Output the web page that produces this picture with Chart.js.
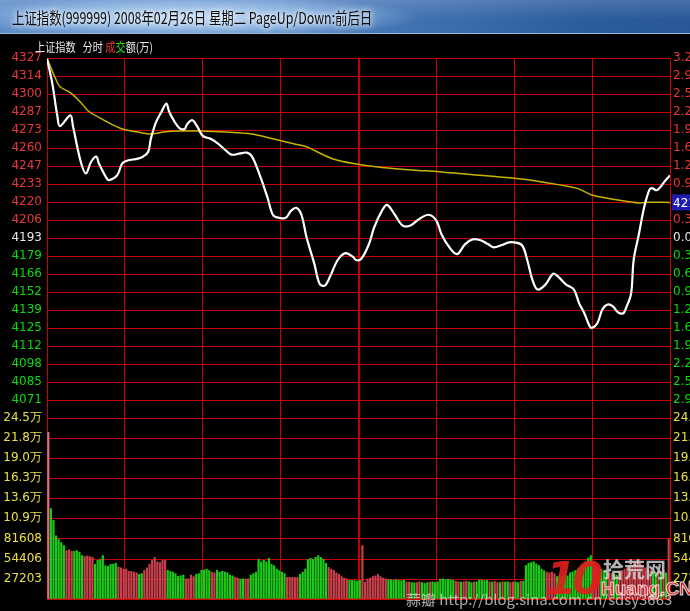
<!DOCTYPE html>
<html>
<head>
<meta charset="utf-8">
<script src="https://cdn.jsdelivr.net/npm/chart.js@4"></script>
<style>
body { margin:0; background:#000; width:690px; height:611px; overflow:hidden; position:relative; }
#titlebar { position:absolute; left:0; top:0; width:690px; height:33px;
  background: radial-gradient(ellipse 230px 22px at 190px 17px, rgba(200,225,250,0.85) 0%, rgba(170,205,240,0.6) 60%, rgba(120,160,210,0) 100%),
              linear-gradient(180deg, rgba(255,255,255,0.15) 0%, rgba(255,255,255,0) 60%),
              linear-gradient(90deg, #5d8cc8 0%, #5585c2 40%, #3f6fb0 62%, #2c5c9c 85%, #29579a 100%);
  border-bottom:1px solid #9fb8d8; z-index:2; }
#title { position:absolute; left:12px; top:5px; font:16px "Noto Sans CJK SC"; color:#0c0c0c; white-space:nowrap;
  transform-origin:0 0; text-shadow:0 0 6px #fff, 0 0 10px #e8f2ff; }
#head { position:absolute; left:35px; top:38px; font:12px "Noto Sans CJK SC"; color:#e8e8e8; white-space:nowrap; transform-origin:0 0; z-index:2; }
#mark { position:absolute; left:406px; top:589px; font:14px "Noto Sans CJK SC"; color:rgba(225,225,225,0.75); white-space:nowrap; transform-origin:0 0; z-index:2; }
#logo10 { position:absolute; left:546px; top:553px; font:italic bold 44px "DejaVu Sans"; color:rgba(225,30,30,0.9); letter-spacing:-4px; z-index:2; }
#logocn { position:absolute; left:603px; top:553px; font:bold 21px "Noto Sans CJK SC"; color:rgba(210,210,210,0.85); z-index:2; }
#logoen { position:absolute; left:601px; top:578px; font:bold 19px "Liberation Sans"; color:rgba(230,40,40,0.9); -webkit-text-stroke:1px rgba(255,255,255,0.8); z-index:2; }
canvas { position:absolute; left:0; top:0; }
</style>
</head>
<body>
<div id="titlebar"><span id="title">上证指数(999999) 2008年02月26日 星期二 PageUp/Down:前后日</span></div>
<div id="head">上证指数&nbsp;&nbsp;&nbsp;分时 <span style="color:#ff3030">成</span><span style="color:#20e020">交</span>额(万)</div>
<canvas id="chart" width="690" height="611"></canvas>
<div id="mark">蒜瓣 http://blog.sina.com.cn/sdsy3663</div>
<div id="logo10">10</div>
<div id="logocn">拾荒网</div>
<div id="logoen">Huang.CN</div>
<script>
// minute index (0 = 9:30, 120 = 11:30/13:00, 240 = 15:00)
var price_minutes = [0, 2, 4, 5, 9, 10, 13, 15, 17, 19, 20, 23, 24, 27, 29, 31, 35, 37, 39, 40, 42, 44, 46, 47, 49, 51, 53, 54, 56, 58,
  60, 63, 66, 69, 71, 74, 77, 79, 82, 85, 87, 89, 92, 94, 96, 98, 100, 103, 105, 107, 109, 112, 115, 118, 119, 121, 124, 126, 129, 131,
  134, 137, 140, 143, 147, 150, 152, 155, 158, 161, 164, 167, 170, 172, 175, 178, 180, 183, 185, 187, 189, 192, 195, 197, 200, 203, 205, 207, 209, 210,
  212, 214, 216, 218, 220, 222, 223, 225, 226, 228, 230, 232, 233, 235, 238, 240];
var price_values = [4327, 4309, 4284, 4276.6, 4284.7, 4276.6, 4250, 4241.3, 4250, 4253.8, 4248.7, 4237.6, 4236.2, 4239.8, 4248.7, 4250.9, 4252.3, 4253.8, 4257.5, 4267.1, 4279.6, 4286.9, 4293.5, 4287.7, 4280.3, 4275.2, 4274.4, 4278.1, 4281, 4275.9,
  4269.3, 4267.1, 4263.4, 4258.2, 4255.3, 4256, 4256.8, 4253.8, 4239.8, 4222.9, 4210.4, 4208.2, 4208.2, 4213.3, 4215.6, 4210.4, 4193.5, 4173.6, 4158.9, 4157.4, 4164, 4176.6, 4181.7, 4178.8, 4176.6, 4177.3, 4188.3, 4200.8, 4213.3, 4217.8,
  4210.4, 4202.3, 4202.3, 4206.7, 4210.4, 4206, 4195.7, 4186.1, 4181, 4188.3, 4192, 4191.3, 4188.3, 4186.1, 4187.6, 4189.8, 4189.8, 4187.6, 4176.6, 4161.8, 4154.5, 4158.2, 4166.3, 4164, 4158.2, 4154.5, 4144.2, 4136.8, 4127.3, 4125.8,
  4129.4, 4139.8, 4143.4, 4142, 4137.5, 4136.8, 4140.5, 4151.5, 4176.6, 4195.7, 4215.6, 4228.8, 4230.3, 4228.8, 4235.4, 4239.8];

var avg_minutes = [0, 3, 5, 9, 13, 16, 20, 24, 29, 35, 40, 45, 51, 59, 69, 79, 87, 95, 100, 104, 110, 118, 129, 143, 150, 162, 180, 189, 204, 210, 220, 228, 232, 240];
var avg_values = [4327, 4313.4, 4306, 4301.6, 4294.3, 4287.7, 4283.2, 4278.8, 4274.4, 4272.2, 4270.7, 4272.2, 4272.9, 4272.9, 4272.2, 4270.7, 4267.1, 4263.4, 4261.2, 4257.5, 4252.3, 4248.7, 4245.7, 4243.5, 4242.8, 4240.6, 4237.6, 4235.4, 4230.3, 4225.1, 4221.4, 4219.2, 4219.8, 4219.6];

// volume per minute, 241 bars
var volume = [
  225000, 122000, 106000, 85000, 80000, 76000, 72000, 65000, 66000, 64000,
  64000, 65000, 63000, 58500, 57000, 58000, 57000, 56000, 46500, 52000,
  53000, 58500, 45000, 44000, 46500, 47000, 48000, 43000, 42000, 40000,
  40000, 37000, 37000, 36000, 35000, 33000, 34000, 38500, 42000, 46500,
  52000, 56000, 50000, 49000, 52000, 52000, 38500, 37000, 36000, 34000,
  30500, 31000, 32000, 26500, 27000, 32000, 30000, 33000, 34000, 38500,
  39000, 40000, 38000, 36000, 35000, 38500, 36000, 37000, 36000, 35000,
  32000, 31000, 29000, 28000, 26500, 27000, 26500, 27000, 32000, 34000,
  36000, 53000, 50000, 52000, 50000, 54500, 46500, 45000, 40000, 38000,
  36000, 34000, 29000, 29000, 29000, 28500, 29000, 33000, 36000, 40000,
  53000, 54500, 53000, 56000, 58500, 56000, 53000, 48000, 42500, 40000,
  38500, 35000, 33000, 30000, 28000, 27000, 25000, 25000, 24500, 24000,
  25000, 72000, 22500, 26500, 28000, 30000, 31000, 33000, 30000, 28000,
  27000, 26000, 25500, 25000, 26000, 25000, 24500, 25000, 23000, 22500,
  22000, 21500, 22000, 23000, 22000, 21000, 22000, 22500, 23000, 22000,
  22500, 26500, 27000, 26000, 26500, 25500, 25000, 23500, 23000, 22500,
  23000, 24000, 23000, 22000, 22500, 23000, 25000, 25500, 24500, 25000,
  23000, 22500, 23500, 22000, 22000, 23000, 22500, 23000, 22000, 22500,
  23000, 22000, 23500, 24000, 45000, 48000, 49000, 50000, 47000, 45000,
  40000, 38000, 36000, 35000, 36000, 34000, 30000, 32000, 30000, 33000,
  31000, 35000, 36000, 38000, 40000, 42000, 45000, 50000, 55000, 58500,
  50000, 45000, 42000, 40000, 38000, 36000, 35000, 34000, 33000, 32000,
  35000, 38000, 40000, 42000, 45000, 45000, 50000, 52000, 48000, 45000,
  42000, 40000, 38000, 36000, 35000, 37000, 36000, 38000, 35000, 81000,
  36000];
// r = up minute, g = down minute
var volume_dir = (
  "rggggggrrr" + "ggggrrrrgg" + "gggggggrrr" + "rrrrrggrrr" + "rrrrrrgggg" +
  "gggrrrrggg" + "gggrrggggg" + "ggrrggrrgg" + "gggggggggg" + "ggrrrrrggg" +
  "ggggggggrr" + "rrrrrrgggg" + "grrrrrrrrr" + "rgggggggrr" + "ggrrgggrgg" +
  "gggggggrrg" + "rrggrggggg" + "rgrrgrggrr" + "ggrggggggg" + "ggrrrrgggg" +
  "gggggggggg" + "rrrgggrrgg" + "rrrrrrrrrr" + "rrrggrgrgr" + "r").split("");

var prev_close = 4193.2;
var price_step = 13.43;
var price_labels = ["", "4071", "4085", "4098", "4112", "4125", "4139", "4152", "4166", "4179", "4193",
  "4206", "4220", "4233", "4247", "4260", "4273", "4287", "4300", "4314", "4327"];
var pct_labels = ["", "2.90%", "2.58%", "2.25%", "1.93%", "1.61%", "1.29%", "0.97%", "0.64%", "0.32%", "0.00%",
  "0.32%", "0.64%", "0.97%", "1.29%", "1.61%", "1.93%", "2.25%", "2.58%", "2.90%", "3.22%"];
var vol_step = 27202.67;
var vol_labels = ["", "27203", "54406", "81608", "10.9万", "13.6万", "16.3万", "19.0万", "21.8万", "24.5万"];

var GRID = "#c80000";
var tickFont = { family: "DejaVu Sans", size: 12 };

function priceTicks(scale) {
  var t = [];
  for (var k = -10; k <= 10; k++) t.push({ value: prev_close + k * price_step });
  scale.ticks = t;
}
function volTicks(scale) {
  var t = [];
  for (var k = 0; k <= 9; k++) t.push({ value: k * vol_step });
  scale.ticks = t;
}
function priceColor(c) {
  return c.index > 10 ? "#e83838" : (c.index == 10 ? "#e6e6e6" : "#10d810");
}

var pricePts = price_minutes.map(function (m, i) { return { x: m, y: price_values[i] }; });
var avgPts = avg_minutes.map(function (m, i) { return { x: m, y: avg_values[i] }; });
// each bar sits in the middle of its minute slot
var volPts = volume.map(function (v, i) { return { x: i + 0.5, y: v }; });
var volColors = volume_dir.map(function (d) { return d == "r" ? "#c8404c" : "#18cc18"; });
volColors[0] = "#e0707c";

// horizontal grid lines for price and volume panes, drawn crisp on whole pixels
var gridPlugin = {
  id: "hgrid",
  beforeDatasetsDraw: function (chart) {
    var c = chart.ctx, a = chart.chartArea;
    c.save();
    c.strokeStyle = GRID;
    c.lineWidth = 1;
    ["y", "v"].forEach(function (id) {
      chart.scales[id].ticks.forEach(function (t) {
        var py = Math.round(chart.scales[id].getPixelForValue(t.value)) + 0.5;
        c.beginPath();
        c.moveTo(a.left, py);
        c.lineTo(a.right, py);
        c.stroke();
      });
    });
    c.restore();
  },
  afterDraw: function (chart) {
    // current average price tag at the right edge
    var c = chart.ctx;
    var v = avg_values[avg_values.length - 1];
    var py = chart.scales.y.getPixelForValue(v);
    var x0 = chart.chartArea.right + 2;
    c.save();
    c.fillStyle = "#1c1cb0";
    c.fillRect(x0, py - 8, 40, 16);
    c.fillStyle = "#ffffff";
    c.font = '12px "DejaVu Sans"';
    c.textBaseline = "middle";
    c.fillText(String(Math.floor(v)), x0 + 1, py + 1);
    c.restore();
  }
};

var tickBase = { font: tickFont, autoSkip: false, maxRotation: 0 };

var myChart = new Chart(document.getElementById("chart"), {
  data: {
    datasets: [
      { type: "line", data: pricePts, yAxisID: "y", borderColor: "#ffffff", borderWidth: 2.2, pointRadius: 0, tension: 0.35, order: 1 },
      { type: "line", data: avgPts, yAxisID: "y", borderColor: "#c8b400", borderWidth: 1.5, pointRadius: 0, tension: 0.3, order: 2 },
      { type: "bar", data: volPts, yAxisID: "v", backgroundColor: volColors, barThickness: 1.5, order: 3 }
    ]
  },
  options: {
    responsive: false,
    animation: false,
    layout: { padding: { top: 58, bottom: 4, left: 0, right: 0 } },
    plugins: { legend: { display: false }, tooltip: { enabled: false } },
    scales: {
      x: {
        type: "linear", min: 0, max: 240, offset: false,
        afterBuildTicks: function (s) {
          var t = [];
          for (var m = 0; m <= 240; m += 30) t.push({ value: m });
          s.ticks = t;
        },
        ticks: { display: false, autoSkip: false },
        grid: { color: GRID, offset: false, drawTicks: false, lineWidth: function (c) { return c.tick && c.tick.value == 120 ? 2 : 1; } },
        border: { color: GRID }
      },
      v: {
        type: "linear", position: "left", stack: "left", stackWeight: 184, min: 0, max: 9 * vol_step,
        afterBuildTicks: volTicks,
        afterFit: function (s) { s.width = 47; },
        ticks: Object.assign({}, tickBase, { color: "#e8e040", padding: 5, callback: function (v, i) { return vol_labels[i]; } }),
        grid: { display: false, drawTicks: false },
        border: { color: GRID }
      },
      y: {
        type: "linear", position: "left", stack: "left", stackWeight: 365,
        min: prev_close - 10 * price_step, max: prev_close + 10 * price_step,
        afterBuildTicks: priceTicks,
        afterFit: function (s) { s.width = 47; },
        ticks: Object.assign({}, tickBase, { color: priceColor, padding: 5, callback: function (v, i) { return price_labels[i]; } }),
        grid: { display: false, drawTicks: false },
        border: { color: GRID }
      },
      y2: {
        type: "linear", position: "right", stack: "right", stackWeight: 365,
        min: prev_close - 10 * price_step, max: prev_close + 10 * price_step,
        afterBuildTicks: priceTicks,
        afterFit: function (s) { s.width = 20; },
        ticks: Object.assign({}, tickBase, { color: priceColor, padding: 3, callback: function (v, i) { return pct_labels[i]; } }),
        grid: { display: false, drawTicks: false },
        border: { color: GRID }
      },
      v2: {
        type: "linear", position: "right", stack: "right", stackWeight: 184, min: 0, max: 9 * vol_step,
        afterBuildTicks: volTicks,
        afterFit: function (s) { s.width = 20; },
        ticks: Object.assign({}, tickBase, { color: "#e8e040", padding: 3, callback: function (v, i) { return vol_labels[i]; } }),
        grid: { display: false, drawTicks: false },
        border: { color: GRID }
      }
    }
  },
  plugins: [gridPlugin]
});

function fitWidth(id, w) {
  var el = document.getElementById(id);
  el.style.transform = "scaleX(" + (w / el.scrollWidth) + ")";
}
fitWidth("title", 360);
fitWidth("head", 118);
fitWidth("mark", 266);
</script>
</body>
</html>
